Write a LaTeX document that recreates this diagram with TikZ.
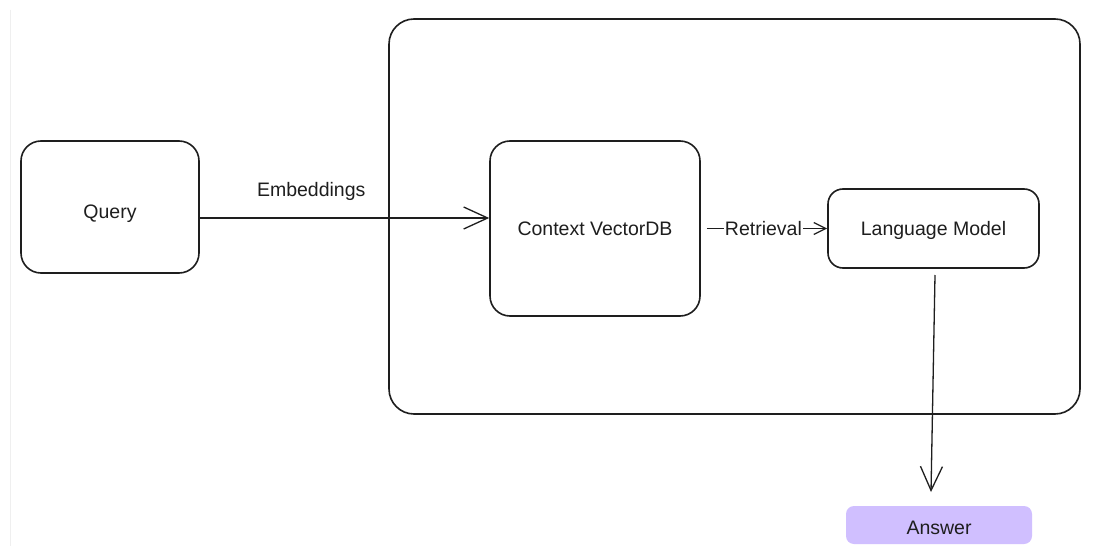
\documentclass[tikz,border=0pt]{standalone}
\usepackage{fontspec}
\setmainfont{Liberation Sans}
\usetikzlibrary{arrows.meta}
\definecolor{ink}{HTML}{1E1E1E}
\definecolor{lav}{HTML}{D0BFFF}
\definecolor{faint}{HTML}{EFEFEF}
\tikzset{
  box/.style={draw=ink, line width=1.6pt, rounded corners=#1, inner sep=0pt},
  box/.default=20pt,
  lbl/.style={text=ink, font=\fontsize{19.5}{23}\selectfont},
  conn/.style={draw=ink, line width=1.3pt},
  bigtip/.style={-{Straight Barb[length=24pt,width=22pt,line width=1.3pt]}},
  smalltip/.style={-{Straight Barb[length=12pt,width=12pt,line width=1.3pt]}},
}
\begin{document}
\begin{tikzpicture}[x=1pt,y=-1pt]
\useasboundingbox (0,0) rectangle (1094,556);
\fill[white] (0,0) rectangle (1094,556);
\draw[faint, line width=1pt] (10,10) -- (10,546);
% container
\node[box=25pt, minimum width=691pt, minimum height=395pt] (ctr) at (734.5,216.5) {};
% nodes
\node[box=20pt, minimum width=178pt, minimum height=132pt, lbl, text height=27pt, text depth=4pt] (query) at (110,207) {Query};
\node[box=20pt, minimum width=210pt, minimum height=175pt, lbl] (vdb) at (595,228.5) {Context VectorDB};
\node[box=15pt, minimum width=211pt, minimum height=79pt, lbl, text height=17pt, text depth=4pt] (lm) at (933.5,228.5) {Language Model};
\node[fill=lav, rounded corners=8pt, minimum width=186pt, minimum height=38pt, inner sep=0pt, lbl, text height=18pt, text depth=0pt] (ans) at (939,525) {Answer};
% connectors
\coordinate (e1) at (query.east |- 0,218);
\coordinate (e2) at (vdb.west |- 0,218);
\draw[conn, bigtip] (e1) -- node[lbl, above=13pt, pos=0.385] (emb) {Embeddings} (e2);
\coordinate (r1) at ([xshift=6pt]vdb.east |- lm.west);
\draw[conn, smalltip] (r1) -- node[lbl, fill=white, inner sep=1pt, pos=0.47] (ret) {Retrieval} (lm.west);
\coordinate (d1) at (935,275);
\coordinate (d2) at (931,492);
\draw[conn, bigtip] (d1) -- (d2);
\end{tikzpicture}
\end{document}
